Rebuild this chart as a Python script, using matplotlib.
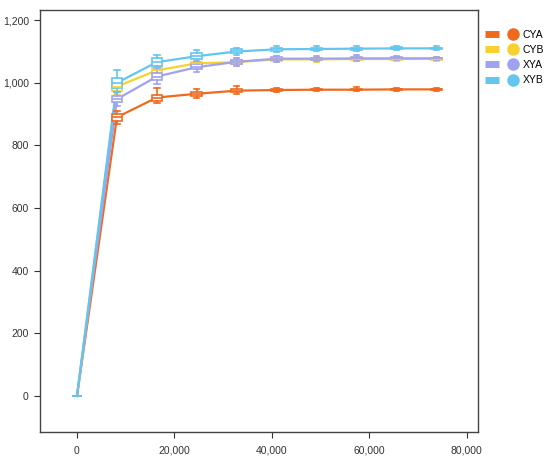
import matplotlib
matplotlib.use("Agg")
import matplotlib.pyplot as plt
from matplotlib.lines import Line2D
from matplotlib.legend_handler import HandlerTuple

plt.rcParams['font.family'] = ['Liberation Sans', 'DejaVu Sans']

depth = [0, 8200, 16400, 24600, 32800, 41000, 49200, 57400, 65600, 73800]
series = ["CYA", "CYB", "XYA", "XYB"]
colors = {"CYA": "#F06A1E", "CYB": "#F8D12E", "XYA": "#A0A2F0", "XYB": "#62C6EF"}

median = {
    "CYA": [0, 890, 953, 965, 975, 977, 978, 978, 979, 979],
    "CYB": [0, 988, 1040, 1062, 1066, 1075, 1075, 1076, 1076, 1077],
    "XYA": [0, 948, 1020, 1050, 1067, 1077, 1077, 1078, 1078, 1078],
    "XYB": [0, 1000, 1066, 1085, 1100, 1107, 1108, 1109, 1110, 1110],
}
q1 = {
    "CYA": [0, 878, 943, 958, 970, 974, 976, 976, 977, 977],
    "CYB": [0, 975, 1030, 1055, 1061, 1071, 1072, 1073, 1073, 1074],
    "XYA": [0, 940, 1010, 1043, 1061, 1073, 1074, 1075, 1075, 1076],
    "XYB": [0, 983, 1055, 1075, 1094, 1103, 1105, 1106, 1107, 1108],
}
q3 = {
    "CYA": [0, 900, 962, 972, 980, 980, 980, 981, 981, 981],
    "CYB": [0, 1000, 1050, 1068, 1072, 1079, 1078, 1079, 1079, 1080],
    "XYA": [0, 958, 1030, 1060, 1074, 1081, 1080, 1082, 1081, 1080],
    "XYB": [0, 1015, 1080, 1095, 1107, 1112, 1112, 1112, 1113, 1112],
}
whislo = {
    "CYA": [0, 870, 935, 950, 965, 970, 974, 973, 975, 975],
    "CYB": [0, 960, 1020, 1045, 1055, 1065, 1068, 1069, 1070, 1071],
    "XYA": [0, 925, 995, 1035, 1055, 1068, 1070, 1071, 1072, 1073],
    "XYB": [0, 970, 1050, 1068, 1088, 1098, 1100, 1102, 1104, 1105],
}
whishi = {
    "CYA": [0, 910, 985, 980, 990, 984, 983, 986, 984, 984],
    "CYB": [0, 1010, 1060, 1075, 1078, 1085, 1083, 1085, 1084, 1084],
    "XYA": [0, 970, 1045, 1070, 1080, 1086, 1085, 1088, 1086, 1084],
    "XYB": [0, 1040, 1088, 1105, 1112, 1118, 1117, 1117, 1118, 1116],
}

fig = plt.figure(figsize=(5.5, 4.62), dpi=100)
ax = fig.add_axes([0.0727, 0.065, 0.796, 0.913])

for s in series:
    c = colors[s]
    ax.plot(depth, median[s], color=c, lw=1.6, zorder=2)
    stats = []
    for i in range(len(depth)):
        stats.append(dict(med=median[s][i], q1=q1[s][i], q3=q3[s][i],
                          whislo=whislo[s][i], whishi=whishi[s][i], fliers=[]))
    ax.bxp(stats, positions=depth, widths=2200, manage_ticks=False, patch_artist=True,
           boxprops=dict(facecolor="white", edgecolor=c, lw=1.2),
           medianprops=dict(color=c, lw=1.2),
           whiskerprops=dict(color=c, lw=1.2),
           capprops=dict(color=c, lw=1.2), zorder=3)

ax.set_xlim(-7600, 82300)
ax.set_ylim(-115, 1232)
ax.set_xticks([0, 20000, 40000, 60000, 80000])
ax.set_xticklabels(["0", "20,000", "40,000", "60,000", "80,000"])
ax.set_yticks([0, 200, 400, 600, 800, 1000, 1200])
ax.set_yticklabels(["0", "200", "400", "600", "800", "1,000", "1,200"])
ax.tick_params(labelsize=7.5, colors="#333333", length=4, width=0.8)
ax.tick_params(axis="y", pad=4)
ax.tick_params(axis="x", pad=6)
for sp in ax.spines.values():
    sp.set_color("#444444")
    sp.set_linewidth(1.0)

handles = []
for s in series:
    c = colors[s]
    h1 = Line2D([], [], color=c, lw=5, solid_capstyle="butt")
    h2 = Line2D([], [], color=c, lw=0, marker="o", markersize=8)
    handles.append((h1, h2))
fig.legend(handles, series, handler_map={tuple: HandlerTuple(ndivide=None, pad=0.7)},
           loc="upper left", bbox_to_anchor=(0.875, 0.945), frameon=False,
           fontsize=7.5, handlelength=3.3, labelspacing=0.5, handletextpad=0.3,
           borderaxespad=0)

fig.savefig("out.png", dpi=100)
